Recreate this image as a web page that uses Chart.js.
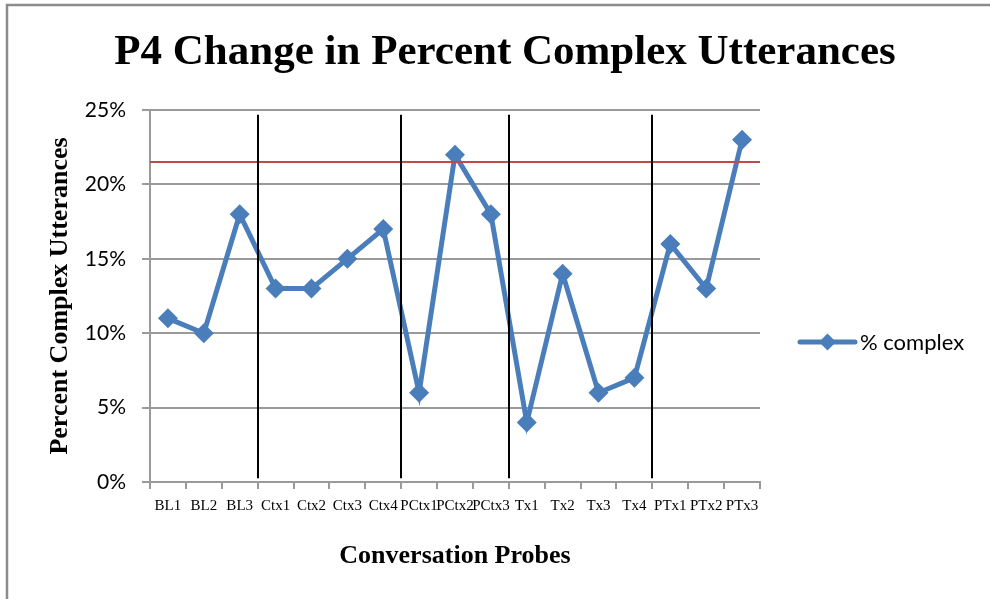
<!DOCTYPE html>
<html>
<head>
<meta charset="utf-8">
<script src="https://cdn.jsdelivr.net/npm/chart.js@4/dist/chart.umd.min.js"></script>
<style>
html,body{margin:0;padding:0;background:#fff;}
#wrap{width:990px;height:599px;position:relative;}
</style>
</head>
<body>
<div id="wrap"><canvas id="c" width="990" height="599"></canvas></div>
<script>
const categories = ['BL1','BL2','BL3','Ctx1','Ctx2','Ctx3','Ctx4','PCtx1','PCtx2','PCtx3','Tx1','Tx2','Tx3','Tx4','PTx1','PTx2','PTx3'];
const percentComplex = [0.11,0.10,0.18,0.13,0.13,0.15,0.17,0.06,0.22,0.18,0.04,0.14,0.06,0.07,0.16,0.13,0.23];
const seriesName = '% complex';
const referenceLevel = 0.215;
const phaseDividers = [2.5, 6.5, 9.5, 13.5];
const dividerSpan = [0.0025, 0.2468];
const yTicks = [0, 0.05, 0.10, 0.15, 0.20, 0.25];

const blue = '#4a7ebb';
const gray = '#9a9a9a';

const extras = {
  id: 'extras',
  beforeDraw(chart) {
    const ctx = chart.ctx;
    ctx.save();
    ctx.fillStyle = '#fff';
    ctx.fillRect(0, 0, chart.width, chart.height);
    ctx.strokeStyle = '#8c8c8c';
    ctx.lineWidth = 2.5;
    ctx.beginPath();
    ctx.moveTo(7, chart.height + 5);
    ctx.lineTo(7, 5);
    ctx.lineTo(chart.width + 5, 5);
    ctx.stroke();
    ctx.restore();
  },
  afterDatasetsDraw(chart) {
    const ctx = chart.ctx;
    const x = chart.scales.x, y = chart.scales.y;
    const area = chart.chartArea;
    ctx.save();
    ctx.strokeStyle = '#be4b48';
    ctx.lineWidth = 2;
    const ry = y.getPixelForValue(referenceLevel);
    ctx.beginPath();
    ctx.moveTo(area.left, ry);
    ctx.lineTo(area.right, ry);
    ctx.stroke();
    ctx.strokeStyle = '#000';
    ctx.lineWidth = 2;
    phaseDividers.forEach(d => {
      const px = Math.round(x.getPixelForValue(d));
      ctx.beginPath();
      ctx.moveTo(px, y.getPixelForValue(dividerSpan[1]));
      ctx.lineTo(px, y.getPixelForValue(dividerSpan[0]));
      ctx.stroke();
    });
    const ly = 342;
    const lx = area.right + 40;
    ctx.strokeStyle = blue;
    ctx.lineWidth = 5;
    ctx.lineCap = 'round';
    ctx.beginPath();
    ctx.moveTo(lx, ly);
    ctx.lineTo(lx + 55, ly);
    ctx.stroke();
    ctx.fillStyle = blue;
    ctx.beginPath();
    const cx = lx + 27.5, r = 8.5;
    ctx.moveTo(cx, ly - r); ctx.lineTo(cx + r, ly); ctx.lineTo(cx, ly + r); ctx.lineTo(cx - r, ly);
    ctx.closePath();
    ctx.fill();
    ctx.fillStyle = '#000';
    ctx.font = '22px Lato';
    ctx.textBaseline = 'middle';
    ctx.textAlign = 'left';
    ctx.fillText(seriesName, lx + 60, ly + 1);
    ctx.restore();
  }
};

new Chart(document.getElementById('c'), {
  type: 'line',
  data: {
    labels: categories,
    datasets: [{
      label: seriesName,
      data: percentComplex,
      borderColor: blue,
      backgroundColor: blue,
      borderWidth: 5,
      pointStyle: 'rectRot',
      pointRadius: 10,
      pointBorderWidth: 0,
      pointBackgroundColor: blue,
      tension: 0,
      clip: false
    }]
  },
  options: {
    responsive: false,
    animation: false,
    devicePixelRatio: 1,
    layout: { padding: { left: 20, right: 0, top: 0, bottom: 0 } },
    plugins: {
      legend: { display: false },
      tooltip: { enabled: false },
      title: {
        display: true,
        text: 'P4 Change in Percent Complex Utterances',
        color: '#000',
        font: { family: 'Liberation Serif', size: 43, weight: 'bold', lineHeight: 1.2 },
        padding: { top: 27, bottom: 31.4 }
      }
    },
    scales: {
      x: {
        type: 'category',
        offset: true,
        grid: { display: true, drawOnChartArea: false, drawTicks: true, tickLength: 7, offset: true, color: gray, lineWidth: 2 },
        border: { display: true, color: gray, width: 2 },
        ticks: { autoSkip: false, maxRotation: 0, minRotation: 0, padding: 8, color: '#000', font: { family: 'Liberation Serif', size: 15 } },
        title: { display: true, text: 'Conversation Probes', color: '#000', font: { family: 'Liberation Serif', size: 26, weight: 'bold', lineHeight: 1.2 }, padding: { top: 0, bottom: 27 } },
        afterFit(s) { s.height = 117; }
      },
      y: {
        type: 'linear',
        position: 'left',
        min: 0,
        max: 0.25,
        afterBuildTicks(s) { s.ticks = yTicks.map(v => ({ value: v })); },
        grid: { color: gray, lineWidth: 2, drawTicks: true, tickLength: 8 },
        border: { display: true, color: gray, width: 2 },
        ticks: { padding: 16, color: '#000', font: { family: 'Lato', size: 21 }, callback: v => Math.round(v * 100) + '%' },
        title: { display: true, text: 'Percent Complex Utterances', color: '#000', font: { family: 'Liberation Serif', size: 26, weight: 'bold', lineHeight: 1.2 }, padding: { top: 25, bottom: 0 } },
        afterFit(s) { s.width = 130; }
      },
      yR: {
        type: 'linear',
        position: 'right',
        display: true,
        grid: { display: false, drawTicks: false },
        border: { display: false },
        ticks: { display: false },
        afterFit(s) { s.width = 230; }
      }
    }
  },
  plugins: [extras]
});
</script>
</body>
</html>
